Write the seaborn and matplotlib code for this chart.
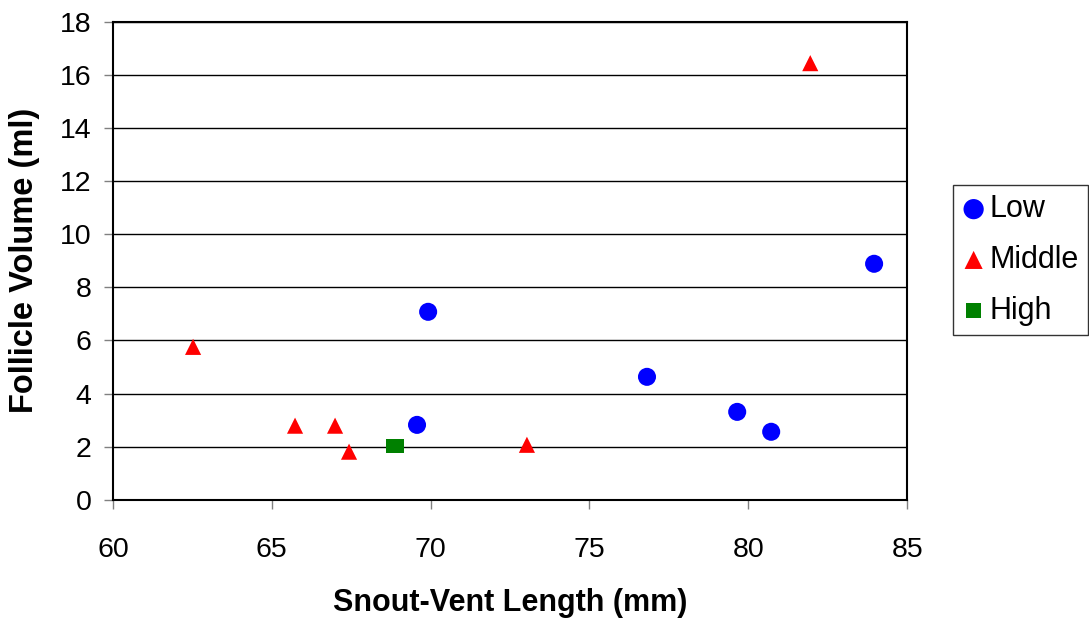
import matplotlib
matplotlib.use("Agg")
import matplotlib.pyplot as plt
import seaborn as sns
import pandas as pd

low_x = [69.92, 69.57, 76.81, 79.65, 80.72, 83.96]
low_y = [7.08, 2.82, 4.63, 3.31, 2.56, 8.89]
mid_x = [62.52, 65.73, 66.99, 67.43, 73.03, 81.95]
mid_y = [5.76, 2.79, 2.79, 1.81, 2.07, 16.45]
high_x = [68.82, 68.94]
high_y = [2.03, 2.03]
groups = ["Low", "Middle", "High"]

df = pd.DataFrame({
    "x": low_x + mid_x + high_x,
    "y": low_y + mid_y + high_y,
    "group": ["Low"] * len(low_x) + ["Middle"] * len(mid_x) + ["High"] * len(high_x),
})

sns.set_style("white")
plt.rcParams["font.family"] = ["Liberation Sans", "DejaVu Sans"]
plt.rcParams["text.color"] = "black"
plt.rcParams["axes.labelcolor"] = "black"
plt.rcParams["xtick.color"] = "gray"
plt.rcParams["ytick.color"] = "gray"
plt.rcParams["xtick.labelcolor"] = "black"
plt.rcParams["ytick.labelcolor"] = "black"

fig = plt.figure(figsize=(10.89, 6.2), dpi=100)
ax = fig.add_axes([0.1038, 0.194, 0.7292, 0.7705])

palette = {"Low": "#0000FF", "Middle": "#FF0000", "High": "#008000"}
markers = {"Low": "o", "Middle": "^", "High": "s"}
sizes = {"Low": 169, "Middle": 135, "High": 100}
for g in groups:
    sub = df[df.group == g]
    sns.scatterplot(data=sub, x="x", y="y", color=palette[g], marker=markers[g],
                    s=sizes[g], edgecolor="none", linewidth=0, ax=ax, label=g, zorder=3)

ax.set_xlim(60, 85)
ax.set_ylim(0, 18)
ax.set_xticks(range(60, 86, 5))
ax.set_yticks(range(0, 19, 2))
ax.yaxis.grid(True, color="black", linewidth=1)
ax.xaxis.grid(False)
for s in ax.spines.values():
    s.set_color("black")
    s.set_linewidth(1.5)
ax.tick_params(axis="both", labelsize=20.5, direction="out", length=6.5, width=1,
               left=True, bottom=True)
ax.tick_params(axis="x", pad=20)
ax.tick_params(axis="y", pad=9)
ax.set_xlabel("Snout-Vent Length (mm)", fontsize=22, fontweight="bold", labelpad=18)
ax.set_ylabel("Follicle Volume (ml)", fontsize=23.5, fontweight="bold", labelpad=14)

leg = ax.legend(loc="upper left", bbox_to_anchor=(953 / 1089, 1 - 185 / 620),
                bbox_transform=fig.transFigure, borderaxespad=0, fontsize=22,
                frameon=True, fancybox=False, edgecolor="black", handletextpad=0.15,
                borderpad=0.3, labelspacing=0.68, handlelength=0.75, markerscale=1.12)
leg.get_frame().set_linewidth(1)

fig.savefig("out.png", dpi=100)
